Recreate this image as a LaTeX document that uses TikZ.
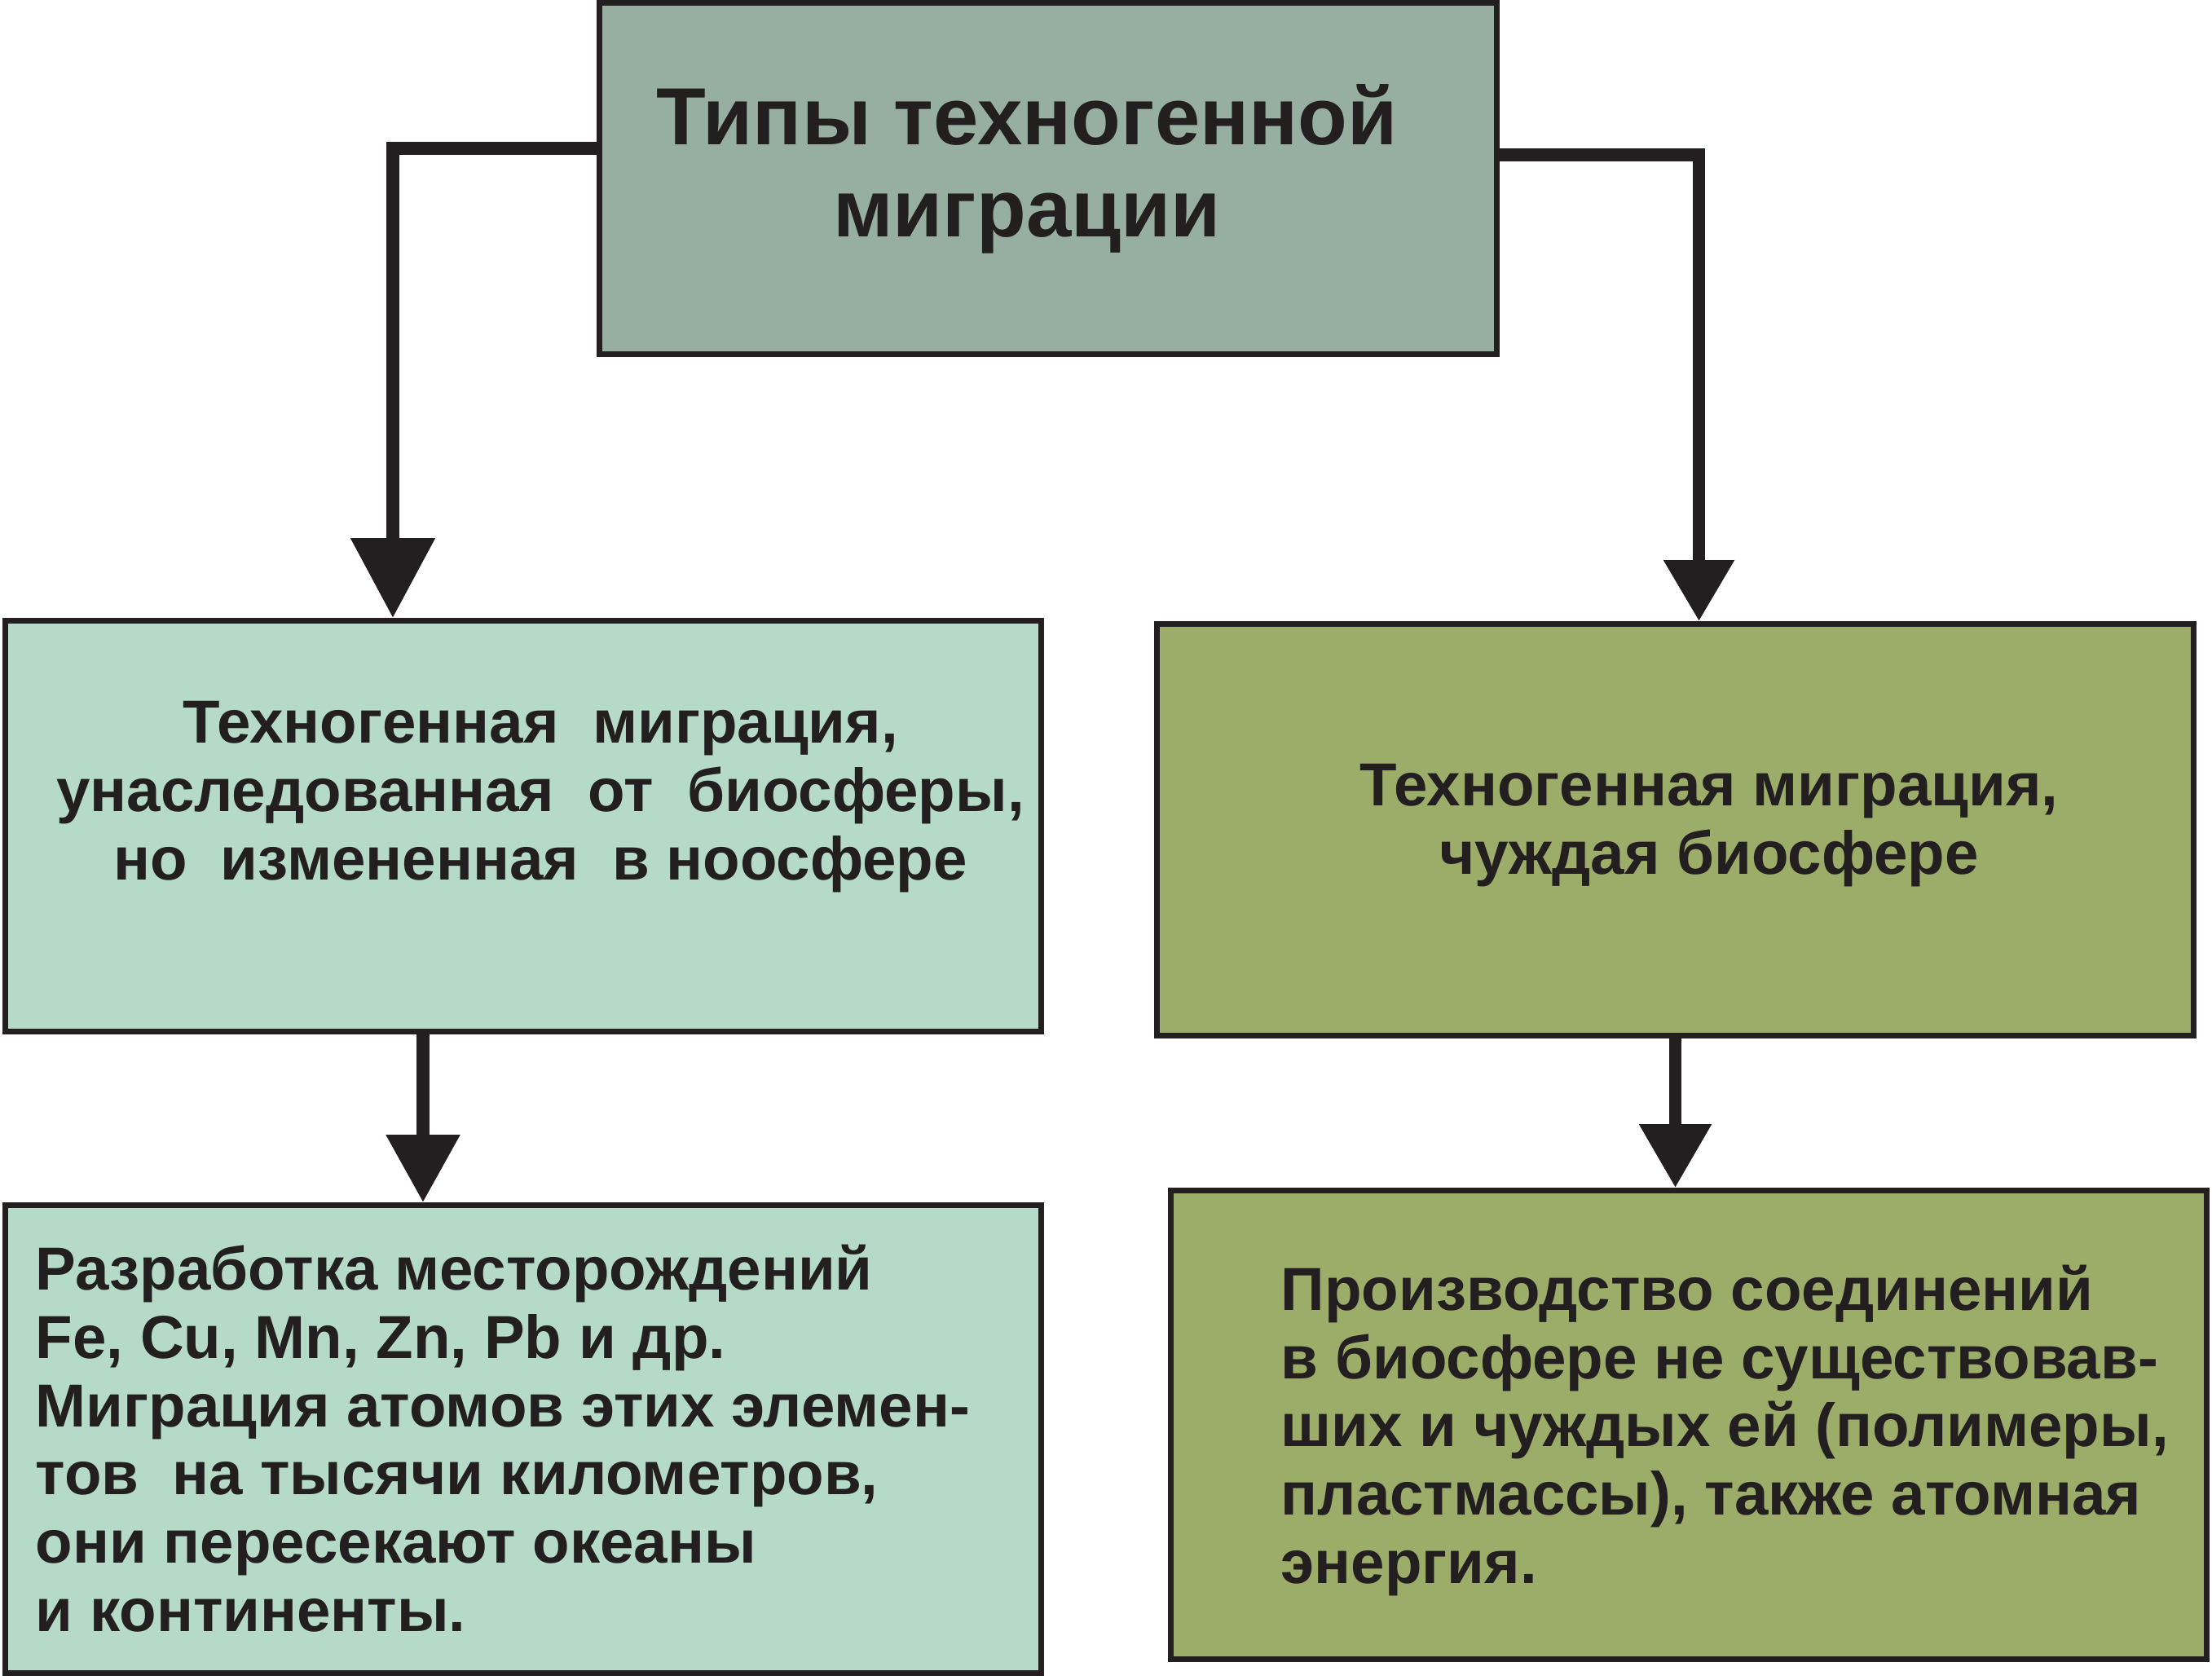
\documentclass[tikz,border=0pt]{standalone}
\usepackage{fontspec}
\setmainfont{Liberation Sans}
\usepackage{tikz}
\usetikzlibrary{arrows.meta}
\definecolor{linecol}{RGB}{35,31,32}
\definecolor{headfill}{RGB}{151,175,160}
\definecolor{inhfill}{RGB}{181,219,200}
\definecolor{alienfill}{RGB}{155,173,105}

\begin{document}
\begin{tikzpicture}[
    box/.style={draw=linecol, line width=2pt, inner sep=0pt, minimum width=12.71cm},
    link/.style={draw=linecol, line width=4.5pt},
    big/.style={font=\fontsize{28.3}{32.1}\selectfont\bfseries, text=linecol, inner sep=0pt},
    txt/.style={font=\fontsize{21.2}{23.8}\selectfont\bfseries, text=linecol, inner sep=0pt}
  ]
  \useasboundingbox (0,0) rectangle (27.14,-20.60);

  % boxes
  \node[box, fill=headfill, minimum width=11.01cm, minimum height=4.31cm] (head) at (12.86,-2.19) {};
  \node[box, fill=inhfill, minimum height=5.04cm] (inh) at (6.42,-10.135) {};
  \node[box, fill=alienfill, minimum width=12.72cm, minimum height=5.05cm] (alien) at (20.555,-10.18) {};
  \node[box, fill=inhfill, minimum height=5.74cm] (mine) at (6.42,-17.655) {};
  \node[box, fill=alienfill, minimum height=5.75cm] (prod) at (20.72,-17.48) {};

  % texts (anchored at the last baseline)
  \node[big, align=center, anchor=base] (headtxt) at (12.60,-2.90)
    {Типы техногенной\\миграции};
  \node[txt, align=center, anchor=base] (inhtxt) at (6.63,-10.79)
    {Техногенная\ \ миграция,\\унаследованная\ \ от\ \ биосферы,\\но\ \ измененная\ \ в ноосфере};
  \node[txt, align=center, anchor=base] (alientxt) at (20.97,-10.72)
    {Техногенная миграция,\\чуждая биосфере};
  \node[txt, align=left, anchor=base west] (minetxt) at (0.43,-20.01)
    {Разработка месторождений\\Fe, Cu, Mn, Zn, Pb и др.\\Миграция атомов этих элемен-\\тов\ \ на тысячи километров,\\они пересекают океаны\\и континенты.};
  \node[txt, align=left, anchor=base west] (prodtxt) at (15.71,-19.42)
    {Производство соединений\\в биосфере не существовав-\\ших и чуждых ей (полимеры,\\пластмассы), также атомная\\энергия.};

  % connectors
  \draw[link, -{Triangle[width=1cm,length=0.98cm]}] ([yshift=0.37cm]head.west) -| ([xshift=-1.60cm]inh.north);
  \draw[link, -{Triangle[width=0.83cm,length=0.75cm]}] ([yshift=0.29cm]head.east) -| ([xshift=0.29cm]alien.north);
  \draw[link, -{Triangle[width=0.87cm,length=0.83cm]}] ([xshift=-1.23cm]inh.south) -- ([xshift=-1.23cm]mine.north);
  \draw[link, -{Triangle[width=0.85cm,length=0.78cm]}] (alien.south) -- (alien.south |- prod.north);
\end{tikzpicture}
\end{document}
